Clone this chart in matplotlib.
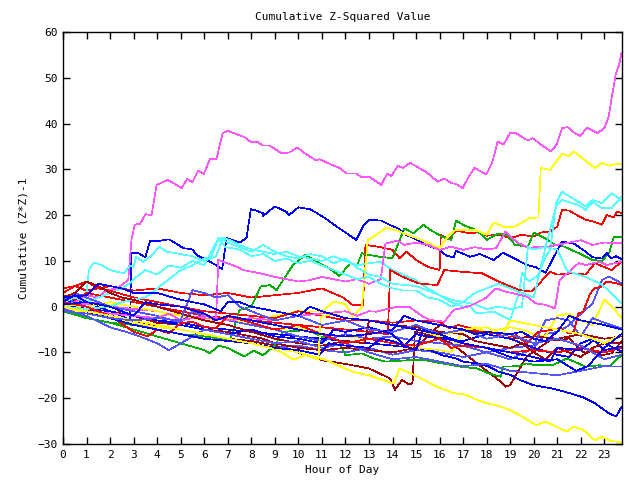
import matplotlib
matplotlib.use("Agg")
import matplotlib.pyplot as plt

RED = "#ff0000"
GREEN = "#00b000"
BLUE = "#0000ff"
MAGENTA = "#ff55ff"
CYAN = "#55ffff"
YELLOW = "#ffff00"
DARKRED = "#a00000"
LIGHTBLUE = "#5555ff"

# (hour, cumulative value) pairs, one list per series
M1 = [(0, 0), (0.5, 1), (1, 2.5), (1.5, 2), (1.85, 3.6), (2.3, 4), (2.77, 5.8), (2.91, 14.7), (3.05, 17.9),
      (3.27, 18.1), (3.51, 20.2), (3.76, 20), (3.98, 26.6), (4.45, 27.7), (5.04, 25.9), (5.27, 27.9),
      (5.5, 27.2), (5.74, 29.7), (5.98, 29), (6.24, 32.2), (6.52, 32.2), (6.78, 37.9), (7.01, 38.4),
      (7.37, 37.7), (7.72, 37), (8.0, 35.9), (8.22, 36.1), (8.5, 35.2), (8.78, 35.2), (9.28, 33.5),
      (9.63, 33.7), (9.96, 34.8), (10.27, 33.5), (10.76, 31.9), (10.9, 32.2), (11.33, 31.2), (11.75, 30.3),
      (12.04, 29.1), (12.46, 29.1), (12.67, 28.3), (13.03, 28.3), (13.52, 26.6), (13.78, 29.1),
      (13.95, 28.5), (14.23, 30.8), (14.44, 30.3), (14.75, 31.4), (15.0, 30.7), (15.43, 29.4),
      (15.92, 27.3), (16.21, 28), (16.49, 27), (16.7, 26.8), (16.98, 25.9), (17.24, 28.4), (17.48, 30.3),
      (17.98, 28.9), (18.23, 31.4), (18.47, 36.1), (18.71, 35.4), (18.99, 37.9), (19.25, 37.9),
      (19.74, 36.3), (19.95, 36.8), (20.31, 35.4), (20.73, 33.9), (20.97, 35.4), (21.2, 39), (21.44, 39.2),
      (21.72, 38), (21.98, 37.3), (22.26, 39.1), (22.71, 37.9), (23.0, 39), (23.18, 41.4), (23.32, 45.9),
      (23.49, 50.9), (23.63, 52.9), (23.73, 55.4)]
M2 = [(0, 0), (0.5, 1), (1, 0.5), (1.5, 1), (2, 0), (3, -0.5), (4, -1), (5, -2), (6, -2.5), (6.5, -3),
      (6.6, 10.2), (7.4, 8.7), (7.65, 8), (8.36, 7.3), (9, 6.5), (9.5, 6), (10, 5.5), (10.5, 5.8), (11, 6.5),
      (11.5, 6), (12, 5.5), (12.5, 6), (13, 5), (13.5, 6), (13.7, 13.8), (14.2, 14.4), (14.5, 13.5),
      (15, 14), (15.5, 13.5), (16, 12.4), (16.5, 13.1), (17, 12.4), (17.5, 13), (18, 12.5), (18.4, 12.8),
      (18.8, 16.4), (19.3, 14), (19.8, 12.8), (20.2, 13.1), (20.5, 13), (21, 13.5), (21.5, 14),
      (22, 14.5), (22.5, 13.5), (23, 14), (23.73, 13.9)]
M3 = [(0, -0.5), (1, -1), (2, -1.5), (3, -2), (4, -2.5), (4.5, -1.5), (5, -3), (6, -2), (7, -3), (8, -2.5),
      (9, -3), (10, -2), (11, -1.5), (12, -1), (12.5, -2), (13, -1), (13.3, -1.1), (14.2, 0), (14.7, 0),
      (15.3, -2.2), (15.6, -2.9), (16.2, -3.3), (16.6, -0.7), (17.2, 0), (17.4, 0.4), (18, 2), (18.4, 4),
      (18.8, 3.3), (19.7, 2.2), (20.1, 0.7), (20.5, 0.4), (20.9, -0.4), (21.1, 5.8), (21.9, 9.5),
      (22.2, 9.1), (22.8, 9.8), (23.1, 9.1), (23.73, 9.8)]
B1 = [(0, 0.5), (0.5, 1.5), (1, 1), (1.5, 0), (2, -1), (2.5, -2), (2.85, -3), (2.9, 11.7), (3.2, 11.7),
      (3.5, 10.8), (3.7, 14.4), (4.1, 14.4), (4.5, 14.7), (4.9, 13.5), (5.1, 12.8), (5.5, 12.5),
      (5.67, 11.3), (6.1, 10.2), (6.5, 9.1), (6.76, 8.2), (6.95, 15), (7.3, 14.4), (7.5, 14), (7.8, 15),
      (7.98, 21.3), (8.2, 21), (8.5, 20.4), (8.5, 19.8), (9.0, 21.9), (9.5, 20.7), (9.6, 20), (10.0, 21.7),
      (10.5, 21.3), (10.8, 20.4), (11.2, 19.1), (11.6, 17.6), (12.0, 16.2), (12.46, 14.6), (12.74, 17.5),
      (13.03, 19), (13.52, 18.8), (13.87, 17.9), (14.23, 17.1), (14.58, 15.7), (15.0, 14.7), (15.43, 13.5),
      (15.78, 12.8), (16.0, 12.4), (16.3, 11.1), (16.6, 10.8), (16.7, 12.2), (17.3, 10.9), (17.7, 11.5),
      (18.3, 10.2), (18.7, 11.8), (19.3, 10.2), (19.7, 9.1), (20.1, 8.6), (20.5, 7.4), (20.9, 11.3),
      (21.2, 14.2), (21.7, 13.8), (22.1, 12.4), (22.5, 10.8), (22.9, 10.5), (23.1, 11.7), (23.3, 10.6),
      (23.5, 11), (23.73, 10.4)]
B2 = [(0, 0.5), (1, -0.5), (2, -1), (3, -2), (4, -3), (5, -3.5), (6, -4.5), (7, -5), (8, -5.5), (9, -6),
      (10, -6.5), (11, -7), (12, -7.5), (13, -8), (14, -8.5), (15, -9), (15.6, -9.5), (16.1, -10.6),
      (16.7, -11.3), (17.0, -12), (17.6, -12.4), (18.1, -13.1), (18.5, -14.2), (19.0, -14.9), (19.4, -16),
      (19.96, -17.1), (20.8, -17.9), (21.4, -18.7), (22.1, -19.8), (22.6, -21.1), (23.2, -23.3),
      (23.5, -24), (23.73, -21.9)]
B3 = [(0, 1), (0.5, 2.5), (1, 1), (2, 0), (3, -2), (4, -3), (5, -4), (6, -5), (7, -6), (8, -5), (9, -6.5),
      (10, -7), (11, -8), (11.5, -5), (12, -5.5), (13, -4.5), (14, -6), (14.5, -8.5), (15, -6), (16, -7),
      (17, -7.5), (18, -6), (19, -7), (20, -9), (21, -10.5), (21.5, -11), (22, -8), (22.5, -7), (23, -9.5),
      (23.73, -8.7)]
B4 = [(0, 0), (1, -1), (2, -2.5), (3, -4), (4, -5), (5, -6), (6, -7), (7, -7.5), (8, -8), (9, -9),
      (10, -9.5), (10.9, -10.5), (11.3, -8), (12, -8.5), (13, -9), (13.5, -7), (14, -7.5), (15, -9.5),
      (15.3, -5), (16, -6.5), (17, -8), (18, -9), (19, -10), (20, -11), (20.7, -12), (21, -9), (22, -9.5),
      (22.5, -7.5), (23, -8), (23.73, -9.8)]
B5 = [(0, 2), (1, 2.5), (1.5, 5), (2, 4.5), (2.5, 4), (3, 3), (4, 3), (5, 1.5), (6, 0.5), (6.7, -1),
      (7, 1), (7.5, 1), (8, 0), (9, -1), (10, -2), (10.5, 0), (11, -1), (12, -2.5), (13, -3), (14, -4),
      (15, -5), (16, -6), (17, -8), (18, -9), (19, -11), (20, -12), (21, -11.5), (21.8, -14), (22.3, -13),
      (23, -9), (23.73, -6)]
B6 = [(0, 0.5), (1, 1), (2, 0), (2.5, -1), (3, -2), (3.5, 1), (4, 0.5), (5, 0), (6, -1.5), (6.5, -3),
      (7, -2), (8, -3), (9, -4), (10, -5), (11, -6), (12, -6.5), (13, -6), (14, -5), (14.5, -2), (15, -3),
      (16, -4), (17, -5), (17.5, -6), (18, -5.5), (19, -6), (19.5, -5.5), (20, -7), (20.5, -7.5),
      (21, -5.5), (21.5, -2), (22, -3), (23, -4), (23.73, -5)]
Y1 = [(0, 0), (1, -1), (2, 0.5), (3, -1), (4, -2), (5, -1.5), (6, -3), (7, -2), (8, -3), (9, -2),
      (10, -1), (11, -1.1), (11.5, 1.1), (12, 0.5), (12.3, -2.2), (12.7, 0), (12.95, 14.6), (13.2, 15.3),
      (13.75, 17.3), (14.2, 16.6), (14.6, 15.8), (15.0, 15), (15.5, 14), (16, 12.8), (16.4, 15.7),
      (16.7, 16.8), (17.5, 16.8), (18, 15.7), (18.3, 18.4), (18.8, 17.3), (19.2, 17.5), (19.8, 19.3),
      (20.2, 19.5), (20.3, 30.3), (20.7, 29.9), (21.2, 33.4), (21.5, 32.9), (21.7, 33.9), (22.6, 30.3),
      (22.9, 31.4), (23.2, 30.8), (23.5, 31.2), (23.73, 31.2)]
Y2 = [(0, 0.5), (1, 0), (2, 1), (3, 0), (4, -1), (5, -2), (6, -3), (7, -2.5), (8, -4), (9, -5),
      (10, -4.5), (11, -6), (12, -6.5), (13, -7), (14, -8), (15, -9), (16, -9.5), (16.5, -10), (17, -5),
      (17.5, -4.5), (18, -5.5), (19, -4.5), (19.5, -5), (20, -6), (20.5, -6.5), (21, -2), (21.5, -1.5),
      (22, -3), (22.5, -4), (23, 1.5), (23.5, -1), (23.73, -2.5)]
Y3 = [(0, 0), (1, -1.5), (2, -2.5), (3, -3.5), (4, -4.5), (5, -5), (6, -6), (7, -7), (8, -8), (9, -9),
      (10, -10), (11.2, -11.7), (11.75, -13), (12.3, -14.2), (13, -15), (14.05, -16.8), (14.3, -13.5),
      (14.9, -14.9), (15.9, -17.5), (16.6, -18.9), (17.1, -19.2), (17.6, -20.4), (18.0, -21.1),
      (18.4, -21.5), (19.0, -22.6), (19.5, -24), (20.1, -25.9), (20.5, -25.1), (20.95, -26.2),
      (21.4, -27.3), (21.7, -26.2), (22.1, -26.9), (22.6, -29.2), (22.9, -28.4), (23.2, -29.2),
      (23.73, -29.7)]
Y4 = [(0, 0), (1, -1), (2, -2), (3, -3), (4, -4), (5, -5), (6, -6), (7, -7), (8, -8), (8.8, -9),
      (9.3, -10), (9.8, -11.6), (10.3, -10.5), (10.85, -11.6), (10.95, -2.2), (11.5, -1.5), (12, -2.5),
      (13, -3), (14, -4), (15, -5), (16, -6.5), (17, -5), (18, -4.5), (18.7, -6), (19, -3), (20, -4),
      (21, -5), (22, -6), (23, -8), (23.73, -6)]
R1 = [(0, 3), (0.5, 4.5), (1, 3.5), (1.5, 4), (2, 4.5), (3, 3.5), (4, 4), (5, 3), (6, 2.5), (7, 3),
      (8, 2), (9, 2.5), (10, 3), (11, 4), (11.9, 2), (12.3, 0.4), (12.75, 0.4), (12.85, 13.5), (13.5, 13),
      (14, 12.4), (14.3, 10.6), (14.6, 12), (15, 10.2), (15.5, 8.7), (16.0, 8), (16.05, 15.7),
      (16.4, 14.7), (16.7, 16.6), (17.3, 16), (17.7, 16.3), (18, 15.5), (18.5, 15.7), (19, 15),
      (19.5, 15.7), (20, 15.3), (20.3, 16.2), (20.7, 16.4), (21.0, 17.5), (21.2, 21.1), (21.5, 21),
      (21.9, 19.8), (22.2, 19), (22.6, 18.5), (22.9, 17.9), (23.1, 20), (23.4, 19.5), (23.55, 20.8),
      (23.73, 20.4)]
R2 = [(0, 2.5), (0.5, 1.5), (1, 3), (2, 2), (3, 1), (4, 0), (5, -1), (6, -2), (7, -2.5), (8, -3),
      (9, -3.5), (10, -4), (11, -4.5), (12, -5), (13, -5.5), (13.8, -6), (13.9, 8), (14.4, 6.6),
      (15.1, 5.1), (15.9, 4.7), (16.2, 8), (17, 7.6), (17.8, 7.3), (18.5, 5.5), (19.4, 3.6), (19.9, 3.3),
      (20.7, 7.6), (21, 7), (21.7, 7.3), (22.2, 7), (22.6, 9.5), (23.3, 8), (23.73, 9.8)]
R3 = [(0, 4), (0.5, 4.5), (1, 5.5), (1.5, 4), (2, 3.5), (3, 2), (4, 1), (5, 0), (6, -1), (7, -1.5),
      (8, -2), (9, -2.5), (10, -1), (11, -2), (12, -3), (13, -3), (14, -3.5), (15, -3), (16, -3.3),
      (16.4, -4.7), (16.8, -4), (17.3, -4.7), (17.7, -5.5), (18.4, -5.8), (18.8, -6.9), (19.25, -6.2),
      (19.7, -8), (20.2, -5.5), (20.7, -5.1), (21.1, -4.7), (21.5, -5.8), (21.7, -5.5), (21.9, -1.5),
      (22.1, -1.1), (22.4, 2.9), (22.6, 4), (22.9, 4.4), (23.1, 5.5), (23.5, 5.1), (23.73, 4.7)]
R4 = [(0, 1), (1, 0), (2, -2), (3, -5.5), (3.6, -6.5), (4, -5), (4.5, -5.8), (5, -3.6), (5.5, -3.3),
      (6, -4.4), (6.5, -4.7), (7, -2), (8, -3.5), (9, -5), (10, -4), (11, -6), (12, -8), (13, -7), (14, -8),
      (15, -8.5), (16, -7), (16.5, -9), (17, -8.5), (18, -9), (19, -10), (20, -9.5), (21, -10), (22, -9),
      (23, -10), (23.73, -9)]
G1 = [(0, -1), (1, -2.5), (2, -3.5), (3, -5), (4, -6.5), (5, -8), (6, -9.5), (6.24, -10.2), (6.6, -8.5),
      (7, -9), (7.7, -10.9), (8.1, -9.6), (8.5, -10.6), (9.0, -8.5), (9.35, -5.5), (10.4, -5.1), (11, -6.6),
      (11.7, -7.3), (12.0, -10.6), (12.7, -10.2), (13.2, -11.3), (13.7, -12), (14.7, -11.7), (15.4, -11.7),
      (16.1, -12.4), (16.9, -13.1), (17.6, -13.5), (18.1, -14.6), (18.6, -15.3), (18.7, -13.1),
      (19.3, -13), (19.7, -12.4), (20.1, -12.8), (20.8, -12.8), (21.4, -11.3), (22.2, -13.1),
      (22.8, -12.8), (23.2, -13.1), (23.73, -10.6)]
G2 = [(0, -0.5), (1, -2.5), (2, -3.5), (3, -4), (4, -5), (5, -6), (6, -6.5), (7.1, -7.3), (7.5, -0.7),
      (8.0, 0), (8.4, 4.4), (8.8, 4.7), (9.07, 3.6), (9.77, 9.1), (10.3, 11.3), (10.9, 9.5), (11.3, 8.4),
      (11.75, 6.7), (12.2, 9.5), (12.5, 9.1), (12.7, 11.7), (13.0, 11.3), (13.45, 10.9), (14.0, 10.6),
      (14.5, 17.1), (14.9, 16), (15.3, 17.9), (15.6, 16.8), (16.1, 15.3), (16.5, 14.6), (16.7, 18.8),
      (17.1, 17.6), (17.55, 16.8), (18.0, 14.6), (18.5, 16), (18.9, 15.5), (19.2, 13.5), (19.75, 13.1),
      (20.0, 16.2), (20.5, 14.9), (20.9, 13.5), (21.3, 13.1), (21.9, 11.7), (22.5, 10.2), (22.9, 10),
      (23.2, 11.7), (23.4, 15.3), (23.73, 15.2)]
C1 = [(0, 0), (0.5, 0.5), (0.95, 0.5), (1.1, 8), (1.3, 9.6), (1.6, 9.2), (2.0, 8), (2.4, 7.5), (2.6, 7.3),
      (2.85, 9), (3.0, 8.7), (3.1, 10.9), (3.4, 9.8), (3.7, 10.9), (4.1, 13.1), (4.4, 12), (5, 11.5),
      (5.5, 11), (6, 10), (6.5, 11), (6.8, 15), (7.1, 14.5), (7.5, 13.5), (8, 12.5), (8.5, 12), (9, 11.5),
      (9.5, 12), (10, 11), (10.5, 10.5), (11, 10), (11.5, 11), (12, 10), (12.5, 9), (13, 9.5), (13.5, 9.8),
      (14, 8), (14.5, 6.9), (15, 5.8), (15.5, 4), (16.1, 2.2), (16.5, 1), (17, 0), (17.3, 0.2),
      (17.55, -1.5), (18.3, -1.1), (19, -2.9), (19.4, 3.6), (19.5, 7.3), (19.8, 5.5), (20.2, 6.9),
      (20.5, 10.9), (20.7, 12.4), (20.95, 22.6), (21.2, 25.1), (21.65, 23.7), (22.2, 21.9), (22.5, 23.3),
      (22.9, 22.6), (23.3, 24.8), (23.73, 23.3)]
C2 = [(0, 1), (0.5, 2), (1, 1), (1.5, 2), (2, 3), (2.5, 4), (2.8, 5), (3, 6), (3.5, 8), (4, 7), (4.5, 9),
      (5, 8.5), (5.5, 10), (6, 9), (6.5, 14), (6.7, 15), (7, 14), (7.5, 13), (8, 12), (8.5, 13.5), (9, 12),
      (9.5, 11), (10, 10.5), (10.5, 11.5), (11, 11), (11.5, 9.5), (12, 10.5), (12.5, 8.5), (13, 7),
      (13.5, 6.5), (14, 5), (15, 4.5), (15.5, 3.5), (16, 2.5), (16.5, 1.5), (17, 1), (17.5, 0.5),
      (18, -0.5), (18.5, 0), (19, -0.5), (19.5, 0), (19.75, 13), (20, 12.5), (20.5, 13), (20.95, 21.9),
      (21.2, 23.3), (21.9, 22.2), (22.2, 21.1), (22.5, 22.9), (22.9, 21.5), (23.3, 21.5), (23.73, 24)]
C3 = [(0, 0), (1, -0.5), (2, 0), (2.5, 1), (3, 1.5), (3.5, 2), (4, 4), (4.5, 6), (5, 8), (5.5, 9),
      (6, 10.5), (6.3, 11), (6.6, 15), (6.9, 13), (7.5, 12.5), (8, 11), (8.5, 11.5), (9, 10), (9.5, 10.5),
      (10, 9.5), (10.5, 10), (11, 9), (11.5, 8), (12, 7), (12.5, 6), (13, 6.5), (13.5, 5), (14, 4),
      (14.5, 3.5), (15, 3.5), (15.5, 2), (16, 1.5), (16.5, 0), (17, 1), (17.5, 3), (18, 4), (18.5, 5),
      (19, 4), (19.5, 3), (20, 2), (20.5, 13), (21, 12.5), (21.4, 8), (21.7, 7.3), (22.2, 6.5),
      (22.8, 5.1), (23.2, 3.5), (23.73, 0.7)]
LB1 = [(0, 2), (1, 0), (2, -2), (3, -3.5), (4, -5), (5, -6), (6, -7), (7, -7.5), (8, -8), (9, -9),
       (10, -8.5), (11, -9.5), (12, -10), (13, -9), (14, -10.5), (15, -9.5), (16, -10), (17, -11),
       (18, -10), (19, -11.5), (20, -9), (20.5, -6), (21, -5.5), (21.4, -4.4), (22.1, -1.1), (22.5, 0.7),
       (22.9, 5.8), (23.2, 6.6), (23.73, 5.1)]
LB2 = [(0, 1.5), (0.5, 3), (1, 2), (2, 0), (3, -1), (4, -2), (5, -3.5), (5.5, -1), (6, -2), (7, -3),
       (8, -4), (9, -5), (10, -6.5), (11, -7.5), (12, -6), (13, -7), (14, -6.5), (15, -7.5), (16, -8),
       (17, -8.5), (18, -10), (19, -9), (20, -8.5), (20.5, -3), (21, -2.5), (21.5, -3), (22, -6.5),
       (22.5, -2.5), (23, -3.5), (23.73, -4.7)]
LB3 = [(0, -0.5), (1, -2), (2, -4.5), (3, -6), (3.5, -7), (4, -8), (4.5, -9.5), (5, -8), (5.5, -6.5),
       (6, -5), (7, -6), (8, -7), (9, -8), (10, -7.5), (11, -9), (12, -8), (13, -10), (14, -11.5),
       (15, -11), (16, -12), (17, -13), (18, -12.5), (19, -14), (20, -14.5), (21, -15), (22, -14),
       (23, -13), (23.73, -13.1)]
LB4 = [(0, -1), (1, -1.5), (2, -2.5), (3, -3), (4, -2.5), (5, -3), (5.5, 3.6), (6, 3), (6.5, 2),
       (7, 2.5), (7.5, 0), (8, -1), (9, -3), (10, -2), (11, -4), (12, -3), (13, -5), (14, -5.5), (15, -4),
       (16, -6), (17, -5), (18, -7), (19, -6), (20, -8), (21, -7), (22, -8.5), (23, -11.5), (23.73, -10.5)]
DR1 = [(0, 0.5), (1, -0.5), (2, -2), (3, -3), (4, -4.5), (5, -5), (6, -6), (7, -7), (8, -7.5), (9, -8.5),
       (10, -10), (11, -11.7), (12, -12.5), (13, -13.5), (13.9, -15.7), (14.1, -18.2), (14.4, -16),
       (14.7, -17), (14.85, -16.7), (14.95, -5.5), (15.3, -5.8), (15.8, -6.5), (16.5, -8), (17, -10),
       (17.5, -12), (18.0, -14), (18.5, -16), (18.8, -17.5), (19.0, -17.1), (19.7, -10.9), (20.7, -7.3),
       (21.2, -7.3), (21.5, -6.9), (21.7, -8), (22.0, -9.5), (22.2, -10.2), (22.5, -9.5), (22.9, -10.6),
       (23.3, -10.2), (23.73, -7.6)]
DR2 = [(0, -0.5), (1, -1), (2, -2), (2.5, -1), (3, -2), (4, -3.5), (5, -4), (6, -5), (7, -5.5), (8, -6.5),
       (8.5, -7), (9, -8), (10, -9), (11, -9.5), (12, -9), (13, -9.5), (14, -10), (15, -9), (16, -4),
       (16.5, -4.5), (17, -5), (18, -6), (19, -7), (20, -6.5), (21, -7), (22, -6), (22.5, -6.5), (23, -7),
       (23.73, -6.5)]
DR3 = [(0, 2), (0.5, 3), (1, 5.5), (1.5, 4.5), (2, 3), (2.5, 2), (3, 1.5), (4, 0), (5, -1.5), (6, -3),
       (7, -4), (8, -5.5), (9, -7), (10, -8), (11, -8.5), (12, -7.5), (12.8, -8), (13, -3), (13.5, -3.5),
       (14, -4), (15, -4.5), (16, -5.5), (17, -6), (17.5, -7.5), (18, -8), (19, -9), (19.5, -8), (20, -10),
       (20.5, -11.5), (21, -9), (21.5, -10), (22, -11), (22.5, -9), (23, -8), (23.73, -8)]

SERIES = [
    (R1, RED), (G2, GREEN), (B1, BLUE), (M1, MAGENTA), (C1, CYAN), (Y1, YELLOW), (DR1, DARKRED), (LB1, LIGHTBLUE),
    (R2, RED), (G1, GREEN), (B2, BLUE), (M2, MAGENTA), (C2, CYAN), (Y2, YELLOW), (DR2, DARKRED), (LB2, LIGHTBLUE),
    (R3, RED), (B3, BLUE), (M3, MAGENTA), (C3, CYAN), (Y3, YELLOW), (DR3, DARKRED), (LB3, LIGHTBLUE),
    (R4, RED), (B4, BLUE), (Y4, YELLOW), (LB4, LIGHTBLUE), (B5, BLUE), (B6, BLUE),
]

HOUR_TICKS = list(range(24))
Y_TICKS = list(range(-30, 61, 10))

plt.rcParams["font.family"] = ["DejaVu Sans Mono"]
plt.rcParams["font.size"] = 8

fig = plt.figure(figsize=(6.4, 4.8), dpi=100)
ax = fig.add_axes([63 / 640, 1 - 444 / 480, (622 - 63) / 640, (444 - 32) / 480])

for pts, col in SERIES:
    xs = [p[0] for p in pts]
    ys = [p[1] for p in pts]
    ax.plot(xs, ys, color=col, linewidth=0.5, antialiased=False)

ax.set_xlim(0, 23.75)
ax.set_ylim(-30, 60)
ax.set_xticks(HOUR_TICKS)
ax.set_yticks(Y_TICKS)
ax.tick_params(direction="in", length=5, width=1, top=True, right=True, pad=4)
for sp in ax.spines.values():
    sp.set_linewidth(1)
ax.set_title("Cumulative Z-Squared Value", fontsize=8, pad=9)
ax.set_xlabel("Hour of Day", labelpad=4)
ax.set_ylabel("Cumulative (Z*Z)-1", labelpad=6)

fig.savefig("out.png", dpi=100)
